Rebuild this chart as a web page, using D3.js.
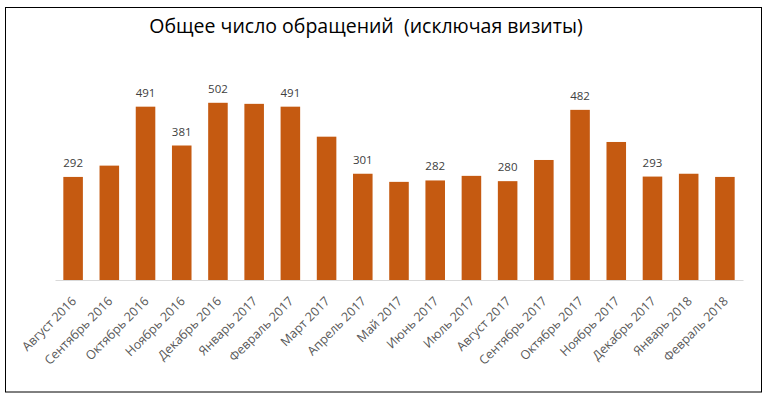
<!DOCTYPE html>
<html>
<head>
<meta charset="utf-8">
<script src="https://cdn.jsdelivr.net/npm/d3@7"></script>
<style>
  body { margin: 0; background: #fff; }
  svg { display: block; }
</style>
</head>
<body>
<svg></svg>
<script>
// months on the x axis
let months = ['Август 2016', 'Сентябрь 2016', 'Октябрь 2016', 'Ноябрь 2016', 'Декабрь 2016',
  'Январь 2017', 'Февраль 2017', 'Март 2017', 'Апрель 2017', 'Май 2017', 'Июнь 2017',
  'Июль 2017', 'Август 2017', 'Сентябрь 2017', 'Октябрь 2017', 'Ноябрь 2017',
  'Декабрь 2017', 'Январь 2018', 'Февраль 2018']
// number of requests per month
let counts = [292, 324, 491, 381, 502, 499, 491, 406, 301, 278, 282, 295, 280, 340, 482, 391, 293, 301, 292]
// which bars carry a value label
let labelled = [true, false, true, true, true, false, true, false, true, false, true, false, true, false, true, false, true, false, false]

let title = 'Общее число обращений  (исключая визиты)'

let width = 769
let height = 399
let left = 55
let right = 743
let baseline = 280
let yMax = 600

let svg = d3.select('svg')
  .attr('width', width)
  .attr('height', height)

// chart border
svg.append('rect')
  .attr('x', 5.5).attr('y', 7.5)
  .attr('width', 756).attr('height', 384.5)
  .attr('fill', '#fff')
  .attr('stroke', '#000')
  .attr('stroke-width', 1)

let xScale = d3.scaleBand()
  .domain(months)
  .range([left, right])
  .paddingInner(0.46)
  .paddingOuter(0.23)

let yScale = d3.scaleLinear()
  .domain([0, yMax])
  .range([baseline, baseline - yMax * 0.353])

svg.selectAll('rect.bar')
  .data(counts)
  .enter()
  .append('rect')
  .attr('class', 'bar')
  .attr('x', (d, i) => xScale(months[i]))
  .attr('width', xScale.bandwidth())
  .attr('y', d => yScale(d))
  .attr('height', d => yScale(0) - yScale(d))
  .attr('fill', '#C55A11')

// value labels (only where the original shows them)
let labelIdx = labelled.map((l, j) => l ? j : -1).filter(j => j >= 0)
svg.selectAll('text.value')
  .data(labelIdx)
  .enter()
  .append('text')
  .attr('class', 'value')
  .attr('x', i => xScale(months[i]) + xScale.bandwidth() / 2)
  .attr('y', i => yScale(counts[i]) - 10)
  .attr('text-anchor', 'middle')
  .style('font-family', 'Open Sans, sans-serif')
  .style('font-size', '11.5px')
  .style('fill', '#404040')
  .text(i => counts[i])

// x axis
let xAxis = d3.axisBottom(xScale).tickSize(0).tickPadding(0)
let gx = svg.append('g')
  .attr('transform', 'translate(0,' + baseline + ')')
  .call(xAxis)
gx.select('.domain').attr('stroke', '#d9d9d9')
gx.selectAll('text')
  .style('font-family', 'Open Sans, sans-serif')
  .style('font-size', '12.5px')
  .style('fill', '#595959')
  .attr('text-anchor', 'end')
  .attr('dy', '0')
  .attr('transform', 'translate(4,22) rotate(-45)')

// title
svg.append('text')
  .attr('x', 366)
  .attr('y', 33)
  .attr('text-anchor', 'middle')
  .attr('xml:space', 'preserve')
  .style('white-space', 'pre')
  .style('font-family', 'Open Sans, sans-serif')
  .style('font-size', '19.5px')
  .style('fill', '#000')
  .text(title)
</script>
</body>
</html>
